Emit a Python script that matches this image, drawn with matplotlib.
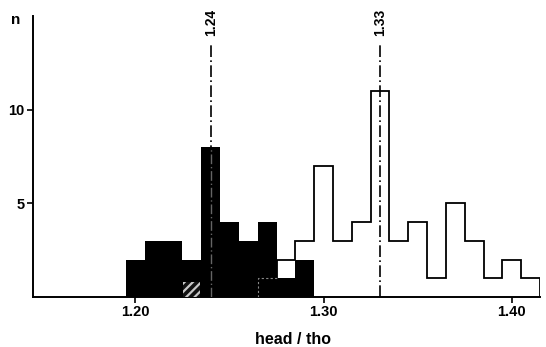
import matplotlib
matplotlib.use("Agg")
import matplotlib.pyplot as plt
import numpy as np

plt.rcParams['font.family'] = ['Liberation Sans', 'DejaVu Sans']
plt.rcParams['font.weight'] = 'bold'
plt.rcParams['hatch.linewidth'] = 1.6

# data: bin centres and counts
bin_width = 0.01
black_centers = [1.20, 1.21, 1.22, 1.23, 1.24, 1.25, 1.26, 1.27, 1.28, 1.29]
black_counts = [2, 3, 3, 2, 8, 4, 3, 4, 1, 2]
white_centers = [1.27, 1.28, 1.29, 1.30, 1.31, 1.32, 1.33, 1.34, 1.35, 1.36,
                 1.37, 1.38, 1.39, 1.40, 1.41]
white_counts = [1, 2, 3, 7, 3, 4, 11, 3, 4, 1, 5, 3, 1, 2, 1]
hatched_center = 1.23
hatched_count = 0.82
means = [1.24, 1.33]
mean_labels = ["1.24", "1.33"]
xticks = [1.20, 1.30, 1.40]
xticklabels = ["1.20", "1.30", "1.40"]
yticks = [5, 10]
yticklabels = ["5", "10"]

fig = plt.figure(figsize=(5.46, 3.47), dpi=100)
ax = fig.add_axes([0.0604, 0.1441, 0.9286, 0.8098])

# white (outline) histogram
w_edges = np.concatenate([np.array(white_centers) - bin_width / 2,
                          [white_centers[-1] + bin_width / 2]])
ax.stairs(white_counts, w_edges, baseline=0, color='black', linewidth=1.3, zorder=1)

# black histogram (filled, no seams)
b_edges = np.concatenate([np.array(black_centers) - bin_width / 2,
                          [black_centers[-1] + bin_width / 2]])
ax.stairs(black_counts, b_edges, baseline=0, fill=True, color='black',
          linewidth=0, zorder=2)

# hidden part of the white histogram drawn faintly inside the black one
e0 = w_edges[0]
e1 = w_edges[1]
ax.plot([e0, e0, e1], [0, white_counts[0], white_counts[0]], color='#888888',
        linewidth=0.8, linestyle=(0, (2, 2)), zorder=3)

# hatched individual
ax.bar([hatched_center], [hatched_count], width=bin_width * 0.9, color='#111111',
       edgecolor='#c8c8c8', linewidth=0, hatch='////', zorder=3)

# mean lines
dashdot = (0, (7, 2, 1, 2))
line_top = 13.6
black_h = dict(zip(black_centers, black_counts))
for m, lab in zip(means, mean_labels):
    ax.plot([m, m], [0, line_top], color='black', linewidth=1.2,
            linestyle=dashdot, zorder=4)
    inside = black_h.get(m, 0)
    if inside:
        ax.plot([m, m], [0, inside], color='white', linewidth=1.0,
                linestyle=dashdot, zorder=5, alpha=0.4)
    ax.text(m, 14.65, lab, rotation=90, ha='center', va='center',
            fontsize=10, fontweight='bold', clip_on=False)

ax.set_xlim(1.1456, 1.415)
ax.set_ylim(0, 15)
ax.spines['top'].set_visible(False)
ax.spines['right'].set_visible(False)
for s in ['left', 'bottom']:
    ax.spines[s].set_linewidth(1.4)
ax.set_xticks(xticks)
ax.set_xticklabels(xticklabels, fontsize=10.5, fontweight='bold')
ax.set_yticks(yticks)
ax.set_yticklabels(yticklabels, fontsize=10.5, fontweight='bold')
ax.tick_params(axis='both', length=4, width=1.2, pad=2)

fig.text(16 / 546, 1 - 20 / 347, "n", fontsize=11, fontweight='bold',
         ha='center', va='center')
fig.text(293 / 546, 1 - 339 / 347, "head / tho", fontsize=11.5, fontweight='bold',
         ha='center', va='center')

fig.savefig("out.png", dpi=100)
